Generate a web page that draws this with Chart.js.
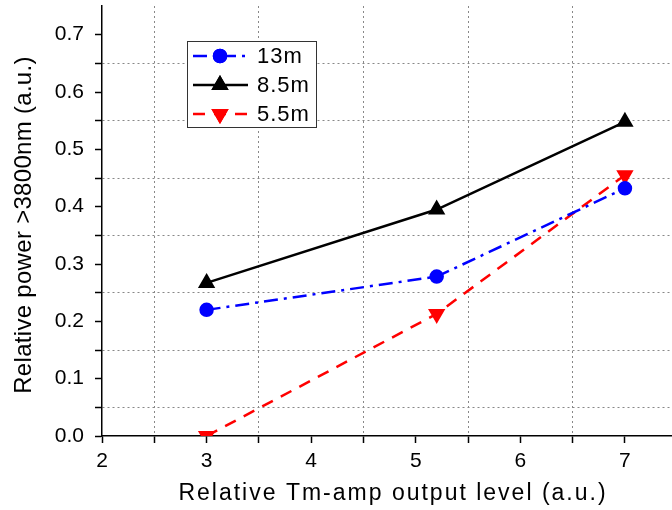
<!DOCTYPE html>
<html>
<head>
<meta charset="utf-8">
<script src="https://cdn.jsdelivr.net/npm/chart.js@4/dist/chart.umd.min.js"></script>
<style>
  body { margin: 0; background: #fff; }
  #chart { display: block; }
</style>
</head>
<body>
<canvas id="chart" width="672" height="510"></canvas>
<script>
const xLevels = [3, 5.2, 7];
const series13m = [0.22, 0.278, 0.432];
const series85m = [0.267, 0.395, 0.548];
const series55m = [0.0, 0.213, 0.455];
const seriesNames = ["13m", "8.5m", "5.5m"];
const xTickValues = [2, 2.5, 3, 3.5, 4, 4.5, 5, 5.5, 6, 6.5, 7];
const yTickValues = [0, 0.05, 0.1, 0.15, 0.2, 0.25, 0.3, 0.35, 0.4, 0.45, 0.5, 0.55, 0.6, 0.65, 0.7];
const xTitle = "Relative Tm-amp output level (a.u.)";
const yTitle = "Relative power >3800nm (a.u.)";

const FONT = "'Liberation Sans', Arial, sans-serif";

function toPoints(values) {
  return xLevels.map((x, i) => ({ x, y: values[i] }));
}

function isMajor(v, step) {
  return Math.abs(v / step - Math.round(v / step)) < 1e-6;
}

// axis titles drawn by hand so the letter spacing can follow the original (wide) lettering
const axisTitles = {
  id: "axisTitles",
  afterDraw(chart) {
    const ctx = chart.ctx;
    ctx.save();
    ctx.fillStyle = "#000";
    ctx.textAlign = "center";
    ctx.textBaseline = "middle";
    ctx.font = "23px " + FONT;
    ctx.letterSpacing = "2px";
    ctx.fillText(xTitle, 393, 494);
    ctx.font = "24px " + FONT;
    ctx.letterSpacing = "0.3px";
    ctx.translate(24, 225);
    ctx.rotate(-Math.PI / 2);
    ctx.fillText(yTitle, 0, 0);
    ctx.restore();
  },
};

// legend drawn inside the plot, like the original
const insideLegend = {
  id: "insideLegend",
  afterDraw(chart) {
    const ctx = chart.ctx;
    const box = { x: 187, y: 41, w: 129, h: 86 };
    ctx.save();
    ctx.fillStyle = "#fff";
    ctx.fillRect(box.x, box.y, box.w, box.h);
    ctx.strokeStyle = "#333";
    ctx.lineWidth = 1;
    ctx.strokeRect(box.x + 0.5, box.y + 0.5, box.w, box.h);

    ctx.font = "22px " + FONT;
    ctx.letterSpacing = "1px";
    ctx.textBaseline = "middle";

    chart.data.datasets.forEach((ds, i) => {
      const y = 56 + i * 29;
      ctx.strokeStyle = ds.borderColor;
      ctx.lineWidth = ds.borderWidth;
      ctx.setLineDash(ds.borderDash || []);
      ctx.beginPath();
      ctx.moveTo(193, y);
      ctx.lineTo(248, y);
      ctx.stroke();
      ctx.setLineDash([]);
      Chart.helpers.drawPoint(ctx, {
        pointStyle: ds.pointStyle,
        radius: ds.pointRadius,
        rotation: ds.pointRotation || 0,
        borderWidth: 1,
      }, 220, y);
      ctx.fillStyle = ds.pointBackgroundColor;
      ctx.strokeStyle = ds.pointBorderColor;
      ctx.fill();
      ctx.stroke();
      ctx.fillStyle = "#000";
      ctx.fillText(ds.label, 257, y + 1);
    });
    ctx.restore();
  },
};

new Chart(document.getElementById("chart"), {
  type: "line",
  data: {
    datasets: [
      {
        label: seriesNames[0],
        data: toPoints(series13m),
        borderColor: "#0000ff",
        backgroundColor: "#0000ff",
        pointBackgroundColor: "#0000ff",
        pointBorderColor: "#0000ff",
        borderWidth: 2.5,
        borderDash: [14, 6, 3, 6],
        pointStyle: "circle",
        pointRadius: 6,
      },
      {
        label: seriesNames[1],
        data: toPoints(series85m),
        borderColor: "#000",
        backgroundColor: "#000",
        pointBackgroundColor: "#000",
        pointBorderColor: "#000",
        borderWidth: 2.5,
        pointStyle: "triangle",
        pointRadius: 7.5,
      },
      {
        label: seriesNames[2],
        data: toPoints(series55m),
        borderColor: "#ff0000",
        backgroundColor: "#ff0000",
        pointBackgroundColor: "#ff0000",
        pointBorderColor: "#ff0000",
        borderWidth: 2.5,
        borderDash: [12, 9],
        pointStyle: "triangle",
        pointRotation: 180,
        pointRadius: 7.5,
      },
    ],
  },
  options: {
    responsive: false,
    animation: false,
    devicePixelRatio: 1,
    layout: { autoPadding: false, padding: { top: 6, right: 0, left: 0, bottom: 0 } },
    plugins: { legend: { display: false }, tooltip: { enabled: false } },
    elements: { line: { tension: 0 } },
    datasets: { line: { clip: 0 } },
    scales: {
      x: {
        type: "linear",
        min: 2,
        max: 7.45,
        afterBuildTicks: (s) => {
          s.ticks = xTickValues.map((v) => ({ value: v }));
        },
        afterFit: (s) => {
          s.height = 74;
          s.paddingLeft = 0;
          s.paddingRight = 0;
        },
        ticks: {
          color: "#000",
          font: { family: FONT, size: 21 },
          padding: 6,
          autoSkip: false,
          maxRotation: 0,
          callback: (v) => (isMajor(v, 1) ? String(v) : ""),
        },
        grid: {
          color: (c) => (c.tick && !isMajor(c.tick.value, 1) ? "#888" : "rgba(0,0,0,0)"),
          lineWidth: 1,
          tickColor: "#000",
          tickLength: 7,
          tickWidth: 1.5,
        },
        border: { color: "#000", width: 1.5, dash: [2, 3] },
      },
      y: {
        type: "linear",
        min: 0,
        max: 0.75,
        afterBuildTicks: (s) => {
          s.ticks = yTickValues.map((v) => ({ value: v }));
        },
        afterFit: (s) => {
          s.width = 102;
          s.paddingTop = 0;
          s.paddingBottom = 0;
        },
        ticks: {
          color: "#000",
          font: { family: FONT, size: 21 },
          padding: 11,
          autoSkip: false,
          callback: (v) => (isMajor(v, 0.1) ? v.toFixed(1) : ""),
        },
        grid: {
          color: (c) => (c.tick && !isMajor(c.tick.value, 0.1) ? "#888" : "rgba(0,0,0,0)"),
          lineWidth: 1,
          tickColor: "#000",
          tickLength: 7,
          tickWidth: 1.5,
        },
        border: { color: "#000", width: 1.5, dash: [2, 3] },
      },
    },
  },
  plugins: [insideLegend, axisTitles],
});
</script>
</body>
</html>
